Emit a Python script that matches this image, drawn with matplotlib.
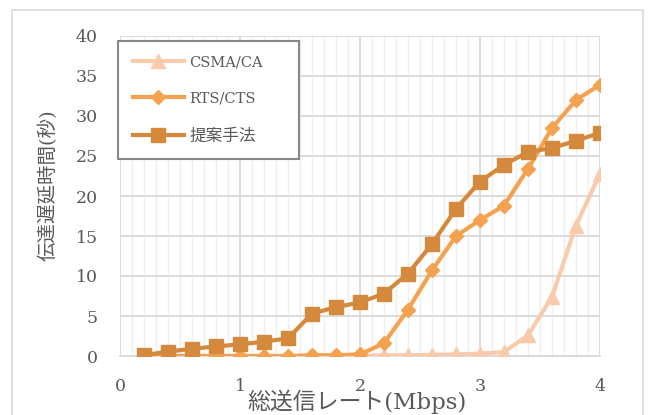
import matplotlib
matplotlib.use("Agg")
import matplotlib.pyplot as plt
from matplotlib.patches import Rectangle
from matplotlib.ticker import MultipleLocator
import numpy as np

# データ
rate = [0.2, 0.4, 0.6, 0.8, 1.0, 1.2, 1.4, 1.6, 1.8, 2.0,
        2.2, 2.4, 2.6, 2.8, 3.0, 3.2, 3.4, 3.6, 3.8, 4.0]
csma = [0, 0, 0, 0, 0, 0, 0, 0, 0, 0,
        0.1, 0.1, 0.15, 0.2, 0.3, 0.5, 2.6, 7.4, 16.3, 22.8]
rtscts = [0, 0, 0, 0, 0, 0, 0, 0.1, 0.1, 0.2,
          1.6, 5.8, 10.7, 15.0, 17.0, 18.8, 23.4, 28.5, 32.0, 33.9]
teian = [0.1, 0.55, 0.9, 1.2, 1.45, 1.8, 2.2, 5.3, 6.1, 6.7,
         7.8, 10.3, 14.0, 18.4, 21.8, 23.9, 25.5, 26.0, 26.9, 27.9]
labels = ["CSMA/CA", "RTS/CTS", "提案手法"]

W, H = 649, 415
fam = ["DejaVu Serif", "Noto Sans CJK JP"]
txt = "#595959"

fig = plt.figure(figsize=(W / 100, H / 100), dpi=100)
# 外枠
fig.patches.append(Rectangle((12 / W, -0.1), 631 / W, 1.1 - 10 / H, transform=fig.transFigure,
                             fill=False, edgecolor="#d9d9d9", linewidth=1.2))

ax = fig.add_axes([120 / W, (H - 356) / H, 480 / W, 320 / H])

ax.plot(rate, csma, color="#f8cbad", lw=3, marker="^", ms=10, label=labels[0], zorder=3)
ax.plot(rate, rtscts, color="#f4a24f", lw=3, marker="D", ms=7.5, label=labels[1], zorder=4)
ax.plot(rate, teian, color="#d4893d", lw=3, marker="s", ms=10.5, label=labels[2], zorder=5)

ax.set_xlim(0, 4)
ax.set_ylim(0, 40)
ax.xaxis.set_major_locator(MultipleLocator(1))
ax.xaxis.set_minor_locator(MultipleLocator(0.1))
ax.yaxis.set_major_locator(MultipleLocator(5))
ax.grid(which="major", color="#d9d9d9", lw=1.3, zorder=0)
ax.grid(which="minor", axis="x", color="#efefef", lw=1.0, zorder=0)
ax.set_axisbelow(True)
for s in ["top", "right", "left"]:
    ax.spines[s].set_visible(False)
ax.spines["bottom"].set_color("#d9d9d9")
ax.spines["bottom"].set_linewidth(1.3)
ax.tick_params(which="both", length=0)
ax.tick_params(axis="x", pad=16, labelsize=12.5, labelcolor=txt)
ax.tick_params(axis="y", pad=16, labelsize=12.5, labelcolor=txt)
for lb in ax.get_xticklabels() + ax.get_yticklabels():
    lb.set_family(fam)

fig.text(357 / W, 1 - 402 / H, "総送信レート(Mbps)", ha="center", va="center",
         fontsize=16.5, color=txt, family=fam)
fig.text(48 / W, 1 - 185 / H, "伝達遅延時間(秒)", ha="center", va="center",
         rotation=90, fontsize=14, color=txt, family=fam)

leg = ax.legend(loc="upper left",
                bbox_to_anchor=(118 / W, 1 - 153 / H, 181 / W, 112 / H),
                bbox_transform=fig.transFigure, mode="expand",
                prop={"family": fam, "size": 10.5}, labelcolor=txt,
                handlelength=3.5, handletextpad=0.4, labelspacing=1.5,
                borderpad=1.0, borderaxespad=0, fancybox=False, framealpha=1)
leg.get_texts()[2].set_fontsize(12)
leg.get_frame().set_edgecolor("#888888")
leg.get_frame().set_linewidth(1.5)
leg.set_zorder(10)

fig.savefig("out.png", dpi=100)
